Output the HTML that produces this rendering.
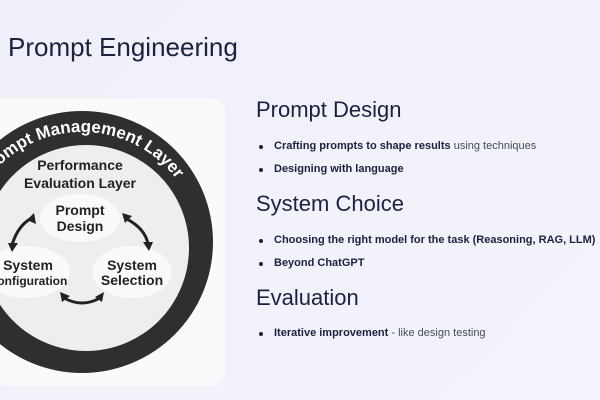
<!DOCTYPE html>
<html><head><meta charset="utf-8"><style>
body{margin:0;width:600px;height:400px;overflow:hidden;background:linear-gradient(135deg,#eff0f9,#f3f3fb);font-family:"Liberation Sans",sans-serif;color:#1c2140;position:relative}
.t{position:absolute;left:8px;top:32px;font-size:26px;}
.card{position:absolute;left:-10px;top:98px;width:235px;height:288px;background:#fafafb;border-radius:14px}
h2{position:absolute;left:256px;margin:0;font-weight:normal;font-size:22px}
ul{position:absolute;left:256px;margin:0;padding:0;list-style:none;font-size:11px}
li{margin:0 0 11px 0;padding-left:18px;position:relative}
li:before{content:"";position:absolute;left:3px;top:5px;width:4px;height:4px;border-radius:50%;background:#1c2140}
b{font-weight:bold}
span.n{color:#444a60}
</style></head><body>
<div class="t">Prompt Engineering</div>
<div class="card"></div>
<svg style="position:absolute;left:0;top:0" width="240" height="400">
<defs><path id="arc" d="M -36 250 A 118 118 0 0 1 200 250"/></defs>
<circle cx="82" cy="242" r="131" fill="#2f2f2f"/>
<circle cx="86" cy="248" r="103" fill="#eeeeee"/>
<text font-size="17" font-weight="bold" fill="#fff" font-family="Liberation Sans"><textPath href="#arc" startOffset="50%" text-anchor="middle">Prompt Management Layer</textPath></text>
<g font-weight="bold" fill="#222" text-anchor="middle" font-size="14">
<text x="80" y="170">Performance</text>
<text x="80" y="188">Evaluation Layer</text>
</g>
<ellipse cx="80" cy="218" rx="40" ry="24" fill="#fafafa"/>
<ellipse cx="26" cy="272" rx="44" ry="26" fill="#fafafa"/>
<ellipse cx="132" cy="272" rx="40" ry="26" fill="#fafafa"/>
<g font-weight="bold" fill="#222" text-anchor="middle" font-size="14">
<text x="80" y="215">Prompt</text>
<text x="80" y="231">Design</text>
<text x="28" y="270">System</text>
<text x="28" y="285" font-size="12">Configuration</text>
<text x="132" y="270">System</text>
<text x="132" y="285">Selection</text>
</g>
<g stroke="#222" stroke-width="3" fill="none">
<path d="M12 245 Q18 225 32 218"/><path d="M125 218 Q145 228 148 244"/><path d="M64 298 Q82 308 100 298"/>
</g>
<g fill="#222">
<polygon points="34,213 36,224 27,220"/><polygon points="8,243 18,243 12,252"/>
<polygon points="122,213 132,216 125,223"/><polygon points="143,242 153,242 149,251"/>
<polygon points="60,292 70,296 62,302"/><polygon points="104,292 102,302 95,297"/>
</g>
</svg>
<h2 style="top:97px">Prompt Design</h2>
<ul style="top:140px"><li><b>Crafting prompts to shape results</b> <span class="n">using techniques</span></li><li><b>Designing with language</b></li></ul>
<h2 style="top:191px">System Choice</h2>
<ul style="top:234px"><li><b>Choosing the right model for the task (Reasoning, RAG, LLM)</b></li><li><b>Beyond ChatGPT</b></li></ul>
<h2 style="top:285px">Evaluation</h2>
<ul style="top:327px"><li><b>Iterative improvement</b> <span class="n">- like design testing</span></li></ul>
</body></html>
